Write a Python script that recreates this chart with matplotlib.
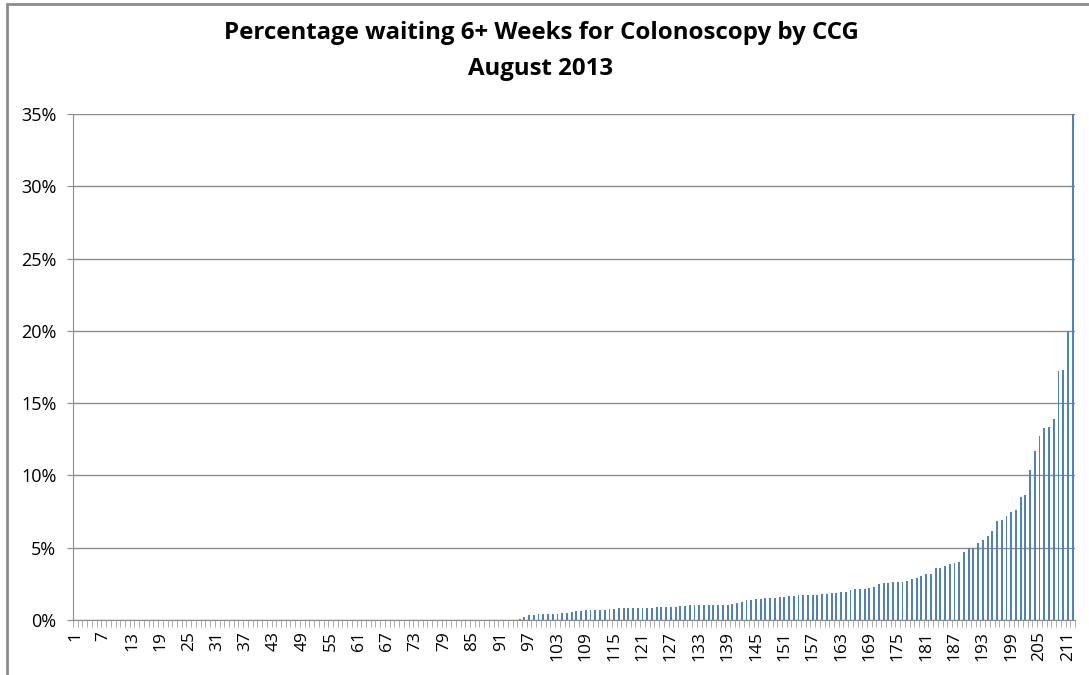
import matplotlib
matplotlib.use('Agg')
import matplotlib.pyplot as plt
from matplotlib.patches import Rectangle
from matplotlib.ticker import FixedLocator, PercentFormatter
import numpy as np

# Values (percent waiting 6+ weeks), CCGs sorted ascending
zero_count = 94
nonzero_values = [
    0.10, 0.23, 0.32, 0.37, 0.44, 0.44, 0.44, 0.44, 0.44, 0.51,   # 95-104
    0.51, 0.58, 0.60, 0.60, 0.67, 0.67, 0.72, 0.72, 0.72, 0.76,   # 105-114
    0.78, 0.83, 0.83, 0.83, 0.83, 0.83, 0.83, 0.83, 0.83, 0.90,   # 115-124
    0.90, 0.90, 0.90, 0.90, 0.97, 0.97, 1.04, 1.04, 1.04, 1.04,   # 125-134
    1.04, 1.06, 1.06, 1.06, 1.06, 1.08, 1.18, 1.25, 1.36, 1.36,   # 135-144
    1.43, 1.47, 1.54, 1.54, 1.54, 1.61, 1.61, 1.68, 1.68, 1.75,   # 145-154
    1.75, 1.75, 1.75, 1.75, 1.82, 1.82, 1.89, 1.89, 1.96, 1.96,   # 155-164
    2.07, 2.17, 2.17, 2.17, 2.24, 2.30, 2.49, 2.56, 2.56, 2.63,   # 165-174
    2.63, 2.63, 2.70, 2.81, 2.90, 3.04, 3.18, 3.18, 3.59, 3.59,   # 175-184
    3.76, 3.89, 3.96, 4.03, 4.72, 4.98, 5.00, 5.32, 5.53, 5.81,   # 185-194
    6.13, 6.82, 6.94, 7.21, 7.44, 7.63, 8.50, 8.64, 10.40, 11.68, # 195-204
    12.76, 13.29, 13.36, 13.90, 17.24, 17.30, 20.00, 35.00,       # 205-212
]
values = [0.0] * zero_count + nonzero_values
ccg = np.arange(1, len(values) + 1)
tick_labels = [str(i) for i in range(1, len(values) + 1, 6)]

title_line1 = 'Percentage waiting 6+ Weeks for Colonoscopy by CCG'
title_line2 = 'August 2013'

W, H = 1089, 675
fig = plt.figure(figsize=(W / 100, H / 100), dpi=100)
ax = fig.add_axes([73 / W, 1 - 620 / H, (1075 - 73) / W, (620 - 114) / H])

ax.bar(ccg, values, width=0.4, color='#4F81BD', zorder=3)

ax.set_xlim(0.5, len(values) + 0.5)
ax.set_ylim(0, 35)
ax.yaxis.set_major_locator(FixedLocator(np.arange(0, 36, 5)))
ax.yaxis.set_major_formatter(PercentFormatter(decimals=0))
ax.grid(axis='y', color='#8C8C8C', linewidth=1, zorder=0)

ax.set_xticks(np.arange(1, len(values) + 1, 6))
ax.set_xticklabels(tick_labels, rotation=90, fontsize=12.5, family='Open Sans')
ax.xaxis.set_minor_locator(FixedLocator(np.arange(0.5, len(values) + 1, 1)))
ax.tick_params(axis='x', which='major', length=0, pad=8)
ax.tick_params(axis='x', which='minor', length=5, color='#A0A0A0', direction='out')
ax.tick_params(axis='y', length=4, color='#8C8C8C', labelsize=13, pad=8)
for lbl in ax.get_yticklabels():
    lbl.set_family('Open Sans')

for side in ['top', 'right']:
    ax.spines[side].set_visible(False)
for side in ['left', 'bottom']:
    ax.spines[side].set_color('#8C8C8C')

fig.text(541 / W, 1 - 33 / H, title_line1, ha='center', va='center',
         fontsize=17.3, fontweight='bold', family='Open Sans')
fig.text(541 / W, 1 - 69 / H, title_line2, ha='center', va='center',
         fontsize=17.3, fontweight='bold', family='Open Sans')

# outer chart border
fig.patches.append(Rectangle((7 / W, -0.05), 1.1, 1 - 4 / H + 0.05,
                             transform=fig.transFigure, fill=False,
                             edgecolor='#8C8C8C', linewidth=2))

fig.savefig('out.png', dpi=100)
